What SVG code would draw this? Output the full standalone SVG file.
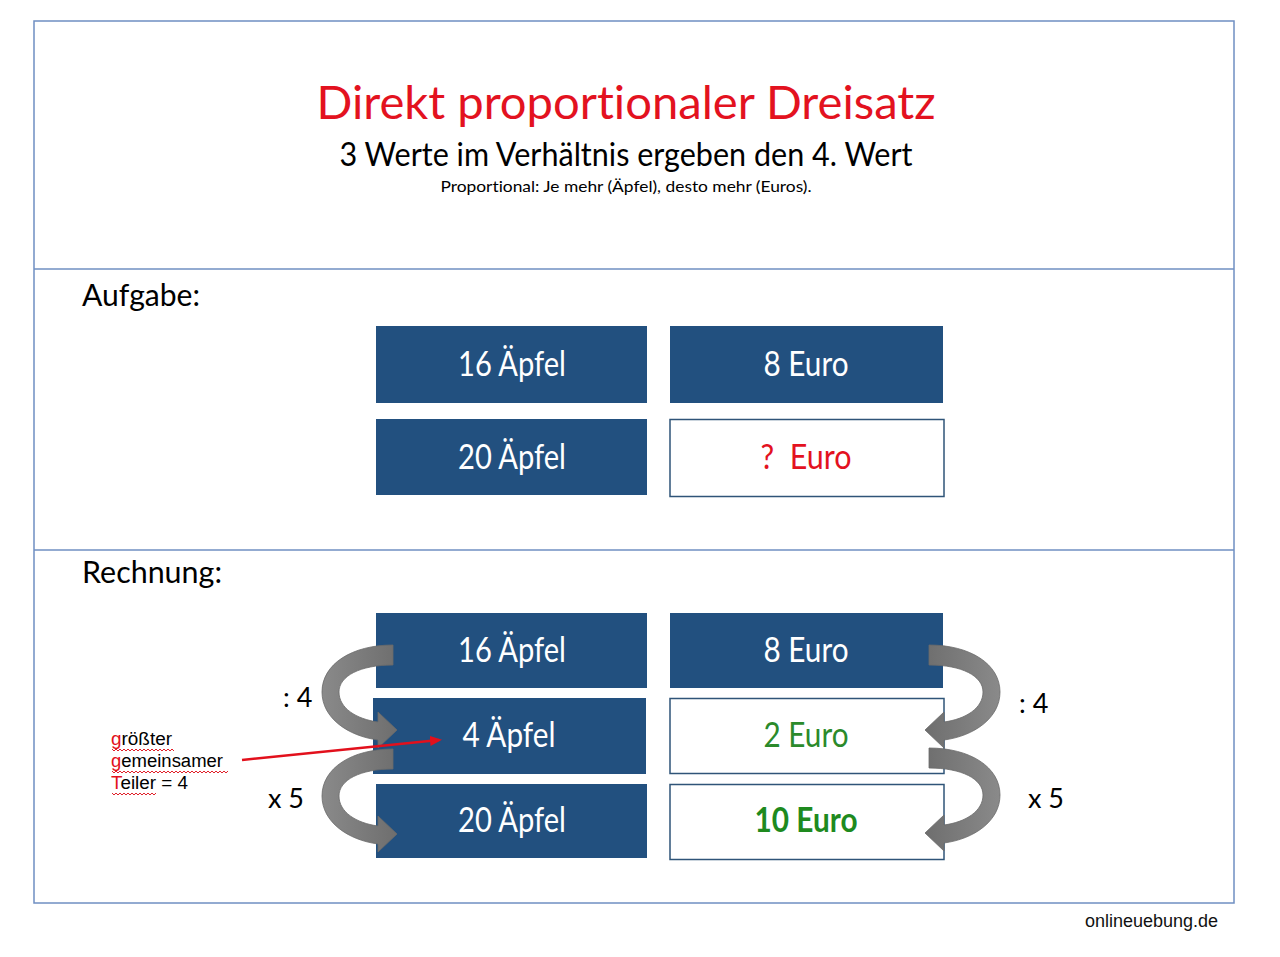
<svg xmlns="http://www.w3.org/2000/svg" width="1280" height="957" viewBox="0 0 1280 957">
<defs>
<style>
.c{font-family:Lato,"Open Sans","Noto Sans",sans-serif;font-variant-ligatures:none}
.a{font-family:"Liberation Sans",Arial,sans-serif}
.box{fill:#22507f}
.wbox{fill:#fff;stroke:#2f5478;stroke-width:1.5}
.bt{fill:#fff;font-size:35px;text-anchor:middle}
.arr{fill:url(#ag);stroke:#6a6a6a;stroke-width:0.8}
.lbl{font-size:27px;fill:#000}
.wave{fill:none;stroke:#e0202a;stroke-width:1}
</style>
<linearGradient id="ag" x1="0" y1="0" x2="1" y2="0">
<stop offset="0" stop-color="#8a8a8a"/>
<stop offset="1" stop-color="#6e6e6e"/>
</linearGradient>
<marker id="rh" markerWidth="12" markerHeight="10" refX="9" refY="5" orient="auto" markerUnits="userSpaceOnUse">
<path d="M0,0 L12,5 L0,10 Z" fill="#e2101c"/>
</marker>
<path id="carr" d="M393,645 C352,645 322,664 322,692 C322,718 348,736 378,740 L378,748 L397,730 L378,712 L378,722 C356,719 339,708 339,692 C339,676 360,665 393,665 Z"/>
</defs>
<rect width="1280" height="957" fill="#fff"/>
<g id="frame" fill="none" stroke="#6f8fc2" stroke-width="1.5">
<rect x="34" y="21" width="1200" height="882"/>
<line x1="34" y1="269" x2="1234" y2="269"/>
<line x1="34" y1="550" x2="1234" y2="550"/>
</g>
<g id="header">
<text class="c" x="626" y="119" font-size="46" fill="#e3121f" text-anchor="middle" textLength="619" lengthAdjust="spacingAndGlyphs">Direkt proportionaler Dreisatz</text>
<text class="c" x="626" y="166" font-size="32" fill="#000" text-anchor="middle" textLength="573" lengthAdjust="spacingAndGlyphs">3 Werte im Verhältnis ergeben den 4. Wert</text>
<text class="c" x="626" y="192" font-size="16" fill="#000" text-anchor="middle" textLength="371" lengthAdjust="spacingAndGlyphs">Proportional: Je mehr (Äpfel), desto mehr (Euros).</text>
</g>
<g id="aufgabe-label"><text class="c" x="82" y="306" font-size="31" fill="#000" textLength="118" lengthAdjust="spacingAndGlyphs">Aufgabe:</text></g>
<g id="rechnung-label"><text class="c" x="82" y="583" font-size="31" fill="#000" textLength="140" lengthAdjust="spacingAndGlyphs">Rechnung:</text></g>

<g id="a1"><rect class="box" x="376" y="326" width="271" height="77"/><text class="c bt" x="512" y="376" textLength="108" lengthAdjust="spacingAndGlyphs">16 Äpfel</text></g>
<g id="a2"><rect class="box" x="670" y="326" width="273" height="77"/><text class="c bt" x="806" y="376" textLength="85" lengthAdjust="spacingAndGlyphs">8 Euro</text></g>
<g id="a3"><rect class="box" x="376" y="419" width="271" height="76"/><text class="c bt" x="512" y="469" textLength="108" lengthAdjust="spacingAndGlyphs">20 Äpfel</text></g>
<g id="a4"><rect class="wbox" x="670" y="419.5" width="274" height="77"/><text class="c bt" x="806" y="469" xml:space="preserve" style="fill:#e3121f;white-space:pre" textLength="91" lengthAdjust="spacingAndGlyphs">?  Euro</text></g>

<g id="r1"><rect class="box" x="376" y="613" width="271" height="75"/><text class="c bt" x="512" y="662" textLength="108" lengthAdjust="spacingAndGlyphs">16 Äpfel</text></g>
<g id="r2"><rect class="box" x="670" y="613" width="273" height="75"/><text class="c bt" x="806" y="662" textLength="85" lengthAdjust="spacingAndGlyphs">8 Euro</text></g>
<g id="r3"><rect class="box" x="373" y="698" width="273" height="76"/><text class="c bt" x="509" y="747" textLength="93" lengthAdjust="spacingAndGlyphs">4 Äpfel</text></g>
<g id="r4"><rect class="wbox" x="670" y="698.5" width="274" height="75"/><text class="c bt" x="806" y="747" style="fill:#2b8a2b" textLength="85" lengthAdjust="spacingAndGlyphs">2 Euro</text></g>
<g id="r5"><rect class="box" x="376" y="784" width="271" height="74"/><text class="c bt" x="512" y="832" textLength="108" lengthAdjust="spacingAndGlyphs">20 Äpfel</text></g>
<g id="r6"><rect class="wbox" x="670" y="784.5" width="274" height="75"/><text class="c bt" x="806" y="832" font-weight="bold" style="fill:#1e8a1e" textLength="103" lengthAdjust="spacingAndGlyphs">10 Euro</text></g>

<g id="connectors">
<use href="#carr" class="arr"/>
<use href="#carr" class="arr" transform="translate(0,104)"/>
<use href="#carr" class="arr" transform="matrix(-1,0,0,1,1322,0)"/>
<use href="#carr" class="arr" transform="matrix(-1,0,0,1,1322,103)"/>
<line x1="242" y1="760" x2="439" y2="740" stroke="#e2101c" stroke-width="2.5" marker-end="url(#rh)"/>
</g>
<g id="op-labels">
<text class="c lbl" x="283" y="707">: 4</text>
<text class="c lbl" x="268" y="808">x 5</text>
<text class="c lbl" x="1019" y="713">: 4</text>
<text class="c lbl" x="1028" y="808">x 5</text>
</g>
<g id="note" class="a" font-size="18" fill="#000">
<text x="111" y="745" textLength="61" lengthAdjust="spacingAndGlyphs"><tspan fill="#e2101c">g</tspan>rößter</text>
<text x="111" y="767" textLength="112" lengthAdjust="spacingAndGlyphs"><tspan fill="#e2101c">g</tspan>emeinsamer</text>
<text x="111" y="789" textLength="77" lengthAdjust="spacingAndGlyphs"><tspan fill="#e2101c">T</tspan>eiler = 4</text>
<path class="wave" d="M112,749 l2,2 l2,-2 l2,2 l2,-2 l2,2 l2,-2 l2,2 l2,-2 l2,2 l2,-2 l2,2 l2,-2 l2,2 l2,-2 l2,2 l2,-2 l2,2 l2,-2 l2,2 l2,-2 l2,2 l2,-2 l2,2 l2,-2 l2,2 l2,-2 l2,2 l2,-2 l2,2 l2,-2 l2,2"/>
<path class="wave" d="M112,771 l2,2 l2,-2 l2,2 l2,-2 l2,2 l2,-2 l2,2 l2,-2 l2,2 l2,-2 l2,2 l2,-2 l2,2 l2,-2 l2,2 l2,-2 l2,2 l2,-2 l2,2 l2,-2 l2,2 l2,-2 l2,2 l2,-2 l2,2 l2,-2 l2,2 l2,-2 l2,2 l2,-2 l2,2 l2,-2 l2,2 l2,-2 l2,2 l2,-2 l2,2 l2,-2 l2,2 l2,-2 l2,2 l2,-2 l2,2 l2,-2 l2,2 l2,-2 l2,2 l2,-2 l2,2 l2,-2 l2,2 l2,-2 l2,2 l2,-2 l2,2 l2,-2 l2,2 l2,-2"/>
<path class="wave" d="M112,793 l2,2 l2,-2 l2,2 l2,-2 l2,2 l2,-2 l2,2 l2,-2 l2,2 l2,-2 l2,2 l2,-2 l2,2 l2,-2 l2,2 l2,-2 l2,2 l2,-2 l2,2 l2,-2 l2,2 l2,-2"/>
</g>
<g id="footer"><text class="a" x="1085" y="927" font-size="18" fill="#111">onlineuebung.de</text></g>
</svg>
